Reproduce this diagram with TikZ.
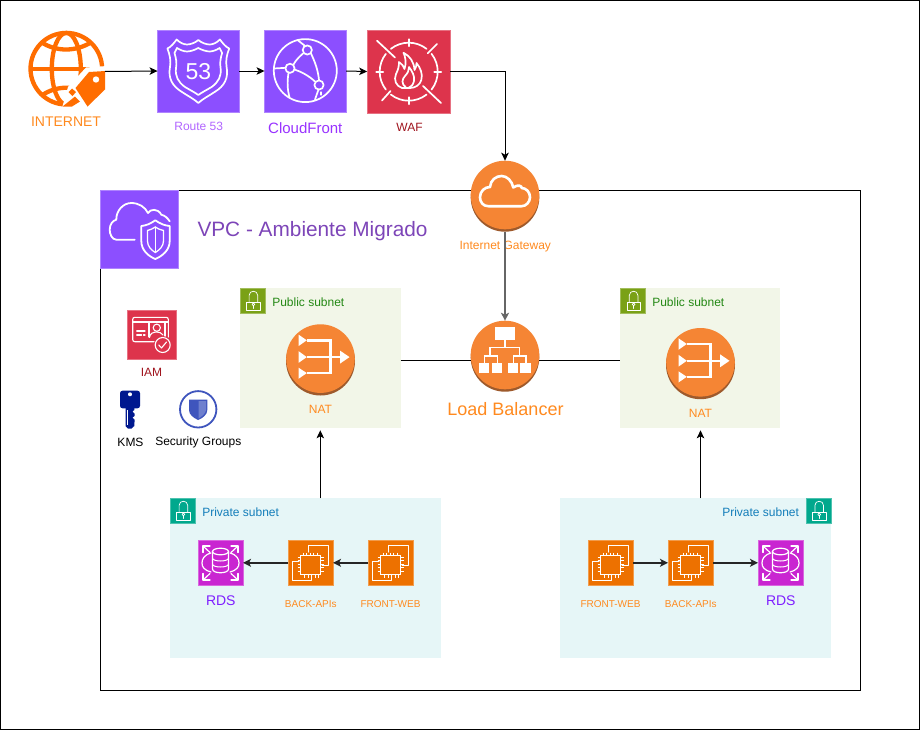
\documentclass[tikz,border=0pt]{standalone}
\usepackage{fontspec}
\setmainfont{Liberation Sans}
\usetikzlibrary{arrows.meta,calc}
\definecolor{awspurple}{HTML}{8C4FFF}
\definecolor{awsred}{HTML}{DD344C}
\definecolor{awsorange}{HTML}{ED7100}
\definecolor{awsmagenta}{HTML}{C925D1}
\definecolor{circorange}{HTML}{F58534}
\definecolor{circshade}{HTML}{9E5A2C}
\definecolor{globeorange}{HTML}{FF6D00}
\definecolor{lblorange}{HTML}{FF8A1F}
\definecolor{lblviolet}{HTML}{9933FF}
\definecolor{lbllilac}{HTML}{B266FF}
\definecolor{lblred}{HTML}{A0141E}
\definecolor{lblrds}{HTML}{7F1FFF}
\definecolor{titlecol}{HTML}{7D45B8}
\definecolor{pubbg}{HTML}{F2F6E8}
\definecolor{pubicon}{HTML}{7AA116}
\definecolor{pubtxt}{HTML}{248814}
\definecolor{privbg}{HTML}{E6F6F7}
\definecolor{privicon}{HTML}{01A88D}
\definecolor{privtxt}{HTML}{147EBA}
\definecolor{keyblue}{HTML}{00188F}
\definecolor{sgblue}{HTML}{3F55BD}
\tikzset{
  x=1pt,y=-1pt,
  iconbox/.style={rectangle,inner sep=0pt,outer sep=0pt,fill=#1,draw=#1!70!white,line width=.5pt},
  subnet/.style={rectangle,inner sep=0pt,outer sep=0pt,fill=#1},
  awscirc/.style={circle,inner sep=0pt,outer sep=0pt,minimum size=68.6pt,fill=circorange},
  txt/.style={inner sep=0pt,outer sep=0pt,yshift=-1pt,font=\fontsize{#1}{#1}\selectfont},
  wl/.style={draw=white,line width=#1,line cap=round,line join=round},
  wl/.default=1.6pt,
  conn/.style={draw=black,line width=1pt,-{Stealth[length=8pt,width=7.5pt,inset=2pt]}},
  thickconn/.style={draw=black!85,line width=1.5pt,-{Stealth[length=8pt,width=8pt,inset=2pt]}},
  plainconn/.style={draw=black,line width=1pt},
  pics/lockicon/.style={code={
    \draw[wl=.7pt] (6.7,13.7) rectangle (20,22);
    \draw[wl=.7pt] (9,13.7) -- (9,7) .. controls (9,1.5) and (17.6,1.5) .. (17.6,7) -- (17.6,13.7);
    \draw[wl=.7pt] (13.3,16) circle (1.4);
    \draw[wl=.7pt] (13.3,17.4) -- (13.3,20);
  }},
  pics/ecicon/.style={code={
    \draw[wl=1pt] (20.3,12) -- (20.3,5.7) -- (40.3,5.7) -- (40.3,25.7) -- (34,25.7);
    \draw[wl=1pt] (11,21) -- (4.3,21) -- (4.3,40) -- (23.7,40) -- (23.7,35);
    \draw[draw=white,line width=1.4pt] (12.5,15.5) rectangle (32.5,34.5);
    \foreach \t in {15,18.5,22,25.5,29}{
      \draw[white,line width=.8pt] (\t,12.5) -- (\t,15.5);
      \draw[white,line width=.8pt] (\t+1.5,34.5) -- (\t+1.5,37.5);
      \draw[white,line width=.8pt] (9.5,\t+2) -- (12.5,\t+2);
      \draw[white,line width=.8pt] (32.5,\t+2) -- (35.5,\t+2);
    }
  }},
  pics/rdsicon/.style={code={
    \draw[wl=1.2pt] (14.5,11.5) -- (14.5,29) .. controls (14.5,34) and (30.5,34) .. (30.5,29) -- (30.5,11.5);
    \draw[wl=1.2pt] (22.5,11.5) ellipse (8 and 3.3);
    \draw[wl=1pt] (14.5,18) .. controls (14.5,22) and (30.5,22) .. (30.5,18);
    \draw[wl=1pt] (14.5,24) .. controls (14.5,28) and (30.5,28) .. (30.5,24);
    \draw[wl=1.2pt] (13,13) .. controls (6,15) and (4,19) .. (4,23) .. controls (4,27) and (6,30) .. (13,32);
    \draw[wl=1.2pt] (32,13) .. controls (39,15) and (41,19) .. (41,23) .. controls (41,27) and (39,30) .. (32,32);
    \foreach \sx/\sy/\cx/\cy in {1/1/5/6,-1/1/40/6,1/-1/5/40,-1/-1/40/40}{
      \draw[wl=1.2pt] (\cx+\sx*7,\cy) -- (\cx,\cy) -- (\cx,\cy+\sy*6.5);
      \draw[wl=1.2pt] (\cx,\cy) -- (\cx+\sx*7,\cy+\sy*6.5);
    }
  }},
  pics/naticon/.style={code={
    \fill[white] (-22,-24) -- (-13.7,-18.3) -- (-22,-12.5) -- cycle;
    \fill[white] (-22,-7.5) -- (-13.7,-1.5) -- (-22,4.3) -- cycle;
    \fill[white] (-22,9) -- (-13.7,14.5) -- (-22,20.2) -- cycle;
    \draw[white,line width=2.6pt] (-14,-18.3) -- (10.2,-18.3) -- (10.2,14.5) -- (-14,14.5);
    \draw[white,line width=2.6pt] (-14,-1.5) -- (20,-1.5);
    \fill[white] (19.5,-8) -- (29,-1.5) -- (19.5,5) -- cycle;
  }},
}
\begin{document}
\begin{tikzpicture}
\useasboundingbox (0,0) rectangle (921,731);
\fill[white] (0,0) rectangle (921,731);
% outer frame and VPC frame
\node[rectangle,draw=black,line width=1pt,inner sep=0pt,outer sep=0pt,minimum width=919.4pt,minimum height=729.2pt] (frame) at (460,365) {};
\node[rectangle,draw=black,line width=1pt,inner sep=0pt,outer sep=0pt,minimum width=759.5pt,minimum height=499.5pt] (vpc) at (480.25,440.25) {};
% VPC icon
\node[iconbox=awspurple,minimum size=78pt] (vpcicon) at (139,229) {};
\draw[wl=1.8pt] (134.7,239.7) -- (116.3,239.7) .. controls (112,239.7) and (109.7,234) .. (109.7,229.7) .. controls (109.7,224) and (113,220.5) .. (116.3,219.7) .. controls (116,211) and (123,203) .. (131.3,203) .. controls (139,203) and (145,207) .. (148,213) .. controls (150,209) and (158,208) .. (161.3,214.7) .. controls (165,215.5) and (167.5,218) .. (169.7,221.3);
\draw[wl=1.8pt] (155.3,220.3) .. controls (150,224) and (146,225.5) .. (141.3,226) -- (141.3,241) .. controls (141.3,250) and (148,256) .. (155.3,259) .. controls (162.6,256) and (169.7,250) .. (169.7,241) -- (169.7,226) .. controls (164.6,225.5) and (160.6,224) .. (155.3,220.3) -- cycle;
\draw[wl=1.3pt] (155.3,227) .. controls (152,229) and (150,230) .. (147.5,230.5) -- (147.5,241) .. controls (147.5,246) and (151,250) .. (155.3,252.5) .. controls (159.6,250) and (163.5,246) .. (163.5,241) -- (163.5,230.5) .. controls (160.6,230) and (158.6,229) .. (155.3,227) -- cycle;
\draw[wl=1.3pt] (155.3,227) -- (155.3,252.5);
\node[txt=20.8,text=titlecol,anchor=west] (vpctitle) at (197.5,230.5) {VPC - Ambiente Migrado};
% subnets
\node[subnet=pubbg,minimum width=160.6pt,minimum height=140pt] (lsub) at (320.3,358.3) {};
\node[subnet=pubbg,minimum width=160pt,minimum height=140pt] (rsub) at (700.3,358.3) {};
\node[subnet=privbg,minimum width=271pt,minimum height=160pt] (lpriv) at (305.5,578.3) {};
\node[subnet=privbg,minimum width=270.7pt,minimum height=160pt] (rpriv) at (695.7,578.3) {};
\node[iconbox=pubicon,minimum size=25pt] (llock) at (252.6,300.9) {};
\pic at (240.1,288.4) {lockicon};
\node[iconbox=pubicon,minimum size=25pt] (rlock) at (632.8,300.9) {};
\pic at (620.3,288.4) {lockicon};
\node[iconbox=privicon,minimum size=25pt] (lplock) at (182.6,510.9) {};
\pic at (170.1,498.4) {lockicon};
\node[iconbox=privicon,minimum size=25pt] (rplock) at (818.4,510.9) {};
\pic at (805.9,498.4) {lockicon};
\node[txt=12,text=pubtxt,anchor=west] (ltxt) at (272.3,301) {Public subnet};
\node[txt=12,text=pubtxt,anchor=west] (rtxt) at (652.3,301) {Public subnet};
\node[txt=12,text=privtxt,anchor=west] (lptxt) at (202.3,511) {Private subnet};
\node[txt=12,text=privtxt,anchor=east] (rptxt) at (799,511) {Private subnet};
% top row
\node[rectangle,inner sep=0pt,outer sep=0pt,minimum width=77.3pt,minimum height=81pt] (inet) at (66.3,71.5) {};
\draw[globeorange,line width=4.3pt] (66.3,68.7) circle (35.8);
\draw[globeorange,line width=4.3pt] (66.3,68.7) ellipse (14.5 and 35.8);
\draw[globeorange,line width=4.3pt] (30.5,69) -- (102,69);
\draw[globeorange,line width=4.3pt] (41,42) .. controls (56,52) and (76,52) .. (91.5,42);
\draw[globeorange,line width=4.3pt] (41,96) .. controls (56,85) and (76,85) .. (91.5,96);
\fill[white] (107,66) -- (86,67.5) -- (68,87) -- (62,108) -- (92,112) -- (108,94) -- cycle;
\fill[globeorange] (105,71) -- (89,72) -- (75.5,88) -- (87.5,106.5) -- (105,89.5) -- cycle;
\fill[white] (96,79.5) circle (3.2);
\fill[globeorange] (68.5,92) -- (72,88.5) -- (76,92) -- (72.5,96) -- cycle;
\fill[globeorange] (62.5,106.5) -- (75,96.5) -- (80,101.5) -- (72,106.5) -- cycle;
\node[txt=14,text=lblorange] (inetl) at (66,121) {INTERNET};
% Route 53
\node[iconbox=awspurple,minimum size=81.5pt] (r53) at (198.3,71) {};
\draw[wl=1.7pt] (198.3,40) .. controls (195,43) and (190,44.5) .. (187,44.5) .. controls (184,44.5) and (180,43) .. (176.7,39.5) .. controls (174,43) and (171,47) .. (167.4,48.5) .. controls (170,55) and (171,61) .. (170,67) .. controls (168,78) and (172,86) .. (182,92) .. controls (188,96) and (194,99) .. (198.3,103) .. controls (202.6,99) and (208.6,96) .. (214.6,92) .. controls (224.6,86) and (228.6,78) .. (226.6,67) .. controls (225.6,61) and (226.6,55) .. (229.2,48.5) .. controls (225.6,47) and (222.6,43) .. (219.9,39.5) .. controls (216.6,43) and (212.6,44.5) .. (209.6,44.5) .. controls (206.6,44.5) and (201.6,43) .. (198.3,40) -- cycle;
\draw[wl=1.7pt] (198.3,48) .. controls (195,50) and (190,51.5) .. (187,51.5) .. controls (184,51.5) and (180,50) .. (177,48) .. controls (176,50) and (175,52) .. (174.5,53) .. controls (176,58) and (177,63) .. (176,68) .. controls (175,76) and (178,82) .. (185,87) .. controls (190,90) and (195,92.5) .. (198.3,95) .. controls (201.6,92.5) and (206.6,90) .. (211.6,87) .. controls (218.6,82) and (221.6,76) .. (220.6,68) .. controls (219.6,63) and (220.6,58) .. (222.1,53) .. controls (221.6,52) and (220.6,50) .. (219.6,48) .. controls (216.6,50) and (212.6,51.5) .. (209.6,51.5) .. controls (206.6,51.5) and (201.6,50) .. (198.3,48) -- cycle;
\node[inner sep=0pt,outer sep=0pt,text=white,font=\fontsize{23}{23}\selectfont] (r53n) at (198.3,72) {53};
\node[txt=12,text=lbllilac] (r53l) at (198.7,125) {Route 53};
% CloudFront
\node[iconbox=awspurple,minimum size=81.5pt] (cf) at (305.3,71) {};
\draw[wl=1.7pt] (305.3,70.6) circle (31.5);
\draw[wl=1.7pt] (307.3,50) circle (4.6);
\draw[wl=1.7pt] (290,68.3) circle (4.6);
\draw[wl=1.7pt] (319,85) circle (4.6);
\draw[wl=1.7pt] (293.5,64.5) .. controls (296,60) and (299,57) .. (303,53.5);
\draw[wl=1.7pt] (311,53.5) .. controls (315,62) and (318,70) .. (319,80);
\draw[wl=1.7pt] (294.5,69.5) .. controls (302,72) and (309,76) .. (315,81.5);
\draw[wl=1.7pt] (274,68.5) -- (285.5,67.8);
\draw[wl=1.7pt] (288.5,73) .. controls (287,82) and (287.5,90) .. (289.5,97.5);
\draw[wl=1.7pt] (304.5,45.5) -- (297.5,40);
\draw[wl=1.7pt] (318.5,89.5) -- (315,99.5);
\draw[wl=1.2pt] (321,92) -- (321,95);
\node[txt=15,text=lblviolet] (cfl) at (305.3,127) {CloudFront};
% WAF
\node[iconbox=awsred,minimum width=82.8pt,minimum height=82.8pt] (waf) at (408.6,71.5) {};
\begin{scope}[shift={(408.7,71.7)}]
  \foreach \a/\b in {52/128,142/218,232/308,322/398}{
    \draw[wl=1.7pt] (\a:29pt) arc[start angle=\a,end angle=\b,radius=29pt];
  }
  \foreach \a in {0,90,180,270}{
    \draw[wl=1.7pt] (\a:25.5pt) -- (\a:32.5pt);
  }
\end{scope}
\draw[wl=1.7pt] (377,40.7) -- (395,57.5);
\draw[wl=1.7pt] (427.7,53.3) -- (437,44);
\draw[wl=1.7pt] (382,100.5) -- (390.5,91);
\draw[wl=1.7pt] (423,86) -- (441,103);
\draw[wl=1.7pt] (402,88) .. controls (396,86) and (393.5,80) .. (396,74) .. controls (398,70) and (399,67) .. (399,62) .. controls (402,64) and (403.5,66) .. (404.5,69) .. controls (406.5,63) and (405.5,57) .. (403.5,52.7) .. controls (410,56) and (414,62) .. (414.5,70) .. controls (416,68) and (416.5,65.5) .. (416.5,63) .. controls (420.5,68) and (423,74) .. (421.3,80) .. controls (420,85) and (415,88) .. (410,88) -- cycle;
\draw[wl=1.7pt] (406,87.5) .. controls (401,84) and (402,79) .. (405,76) .. controls (408,73) and (409,70) .. (409,67) .. controls (412,71) and (415,76) .. (414,81) .. controls (413,85) and (411,87) .. (409,87.5);
\node[txt=12,text=lblred] (wafl) at (409.5,126) {WAF};
% Internet Gateway
\fill[circshade] (505,197.4) circle (34.3);
\node[awscirc] (igw) at (505,195) {};
\draw[wl=2.6pt] (488.3,206.2) .. controls (483,206.2) and (480,202) .. (480,197.2) .. controls (480,191) and (485,187) .. (490,187) .. controls (490.5,180) and (496,176) .. (501.7,176) .. controls (507,176) and (512,181) .. (513.3,187.5) .. controls (518,184) and (522,186) .. (521.7,188) .. controls (526,188) and (530,192) .. (530,197.2) .. controls (530,202) and (526,206.2) .. (521.7,206.2) -- cycle;
\node[txt=12,text=lblorange] (igwl) at (505.3,245.5) {Internet Gateway};
% Load Balancer
\fill[circshade] (505,357.4) circle (34.3);
\node[awscirc] (lb) at (505,355) {};
\fill[white] (495,327.3) rectangle (515,340);
\draw[white,line width=1.1pt] (505,340) -- (505,347.3);
\draw[white,line width=1.1pt] (490,356) -- (490,347.3) -- (519.3,347.3) -- (519.3,356);
\draw[white,line width=1.1pt] (484.3,363.3) -- (484.3,356) -- (497.3,356) -- (497.3,363.3);
\draw[white,line width=1.1pt] (513.3,363.3) -- (513.3,356) -- (526,356) -- (526,363.3);
\fill[white] (479,363.3) rectangle (489.3,373.3);
\fill[white] (491.7,363.3) rectangle (502.3,373.3);
\fill[white] (507.7,363.3) rectangle (517.7,373.3);
\fill[white] (520.3,363.3) rectangle (530.7,373.3);
\node[txt=18,text=lblorange] (lbl) at (505.5,408) {Load Balancer};
% NAT gateways
\fill[circshade] (320.5,361) circle (34.5);
\node[awscirc] (lnat) at (320.5,358.6) {};
\pic at (320.5,358.6) {naticon};
\node[txt=12,text=lblorange] (lnatl) at (320.5,408) {NAT};
\fill[circshade] (700.5,364.7) circle (34.5);
\node[awscirc] (rnat) at (700.5,362.3) {};
\pic at (700.5,362.3) {naticon};
\node[txt=12,text=lblorange] (rnatl) at (700.5,412) {NAT};
% IAM
\node[iconbox=awsred,minimum size=48.6pt] (iam) at (151.6,334.5) {};
\draw[wl=1.1pt] (155,341.7) -- (135,341.7) .. controls (133.5,341.7) and (132.7,341) .. (132.7,339.5) -- (132.7,319.5) .. controls (132.7,318) and (133.5,317.3) .. (135,317.3) -- (166,317.3) .. controls (167.5,317.3) and (168.3,318) .. (168.3,319.5) -- (168.3,337);
\draw[wl=1.1pt] (132.7,322) -- (168.3,322);
\draw[wl=1.1pt] (149,337) -- (149,321.7) -- (165,321.7) -- (165,336.5);
\draw[wl=1.1pt] (156.8,327.7) circle (3.6);
\draw[wl=1.1pt] (149.5,337.5) .. controls (150,333.5) and (153,332) .. (156.8,332) .. controls (159.5,332) and (161.5,333) .. (163,335);
\draw[wl=1.1pt] (136.7,331) -- (145,331);
\draw[wl=1.1pt] (136.7,335) -- (141.5,335);
\draw[wl=1.1pt] (143.5,335) -- (145,335);
\fill[awsred] (162.7,345) circle (9);
\draw[wl=1.1pt] (162.7,345) circle (7.5);
\draw[wl=1.1pt] (158.8,345) -- (161.5,348) -- (166.5,342);
\node[txt=12,text=lblred] (iaml) at (151.5,371) {IAM};
% KMS
\node[rectangle,rounded corners=2.5pt,inner sep=0pt,outer sep=0pt,fill=keyblue,minimum width=20pt,minimum height=17.6pt] (kmshead) at (130,399.5) {};
\fill[keyblue] (125.5,407) -- (134.3,407) -- (134.3,410) -- (132.5,411.5) -- (134.5,413.5) -- (134.5,416) -- (132.5,417.5) -- (134.5,419.5) -- (134.5,422) -- (134.3,426) -- (131.5,428.5) -- (128,428.5) -- (125.5,426) -- cycle;
\fill[white] (130,394.3) circle (2);
\draw[white,line width=.7pt] (127.8,410) -- (127.8,425);
\node[txt=12,text=black] (kmsl) at (130.5,441) {KMS};
% Security Groups
\node[circle,draw=sgblue,line width=1.8pt,inner sep=0pt,outer sep=0pt,minimum size=36.4pt] (sg) at (198.2,409.3) {};
\fill[sgblue] (189,399.6) -- (207.3,399.6) -- (207.3,410) .. controls (207.3,414.5) and (203,418) .. (198.2,420) .. controls (193.4,418) and (189,414.5) .. (189,410) -- cycle;
\fill[sgblue!75!white] (198.5,401) -- (206,401) -- (206,410) .. controls (206,413) and (202,416.5) .. (198.5,418.5) -- cycle;
\node[txt=12,text=black] (sgl) at (198.3,441) {Security Groups};
% compute, left
\node[iconbox=awsmagenta,minimum width=45pt,minimum height=45.5pt] (lrds) at (220.5,562.8) {};
\pic at (198,540) {rdsicon};
\node[iconbox=awsorange,minimum width=45pt,minimum height=45.5pt] (lback) at (310.5,562.8) {};
\pic at (288,540) {ecicon};
\node[iconbox=awsorange,minimum width=45pt,minimum height=45.5pt] (lfront) at (390.5,562.8) {};
\pic at (368,540) {ecicon};
\node[txt=14,text=lblrds] (lrdsl) at (220.8,600) {RDS};
\node[txt=10,text=lblorange] (lbackl) at (310.8,603.5) {BACK-APIs};
\node[txt=10,text=lblorange] (lfrontl) at (390.5,603.5) {FRONT-WEB};
% compute, right
\node[iconbox=awsorange,minimum width=45pt,minimum height=45.5pt] (rfront) at (610.5,562.8) {};
\pic at (588,540) {ecicon};
\node[iconbox=awsorange,minimum width=45pt,minimum height=45.5pt] (rback) at (690.5,562.8) {};
\pic at (668,540) {ecicon};
\node[iconbox=awsmagenta,minimum width=45pt,minimum height=45.5pt] (rrds) at (780.5,562.8) {};
\pic at (758,540) {rdsicon};
\node[txt=10,text=lblorange] (rfrontl) at (610.5,603.5) {FRONT-WEB};
\node[txt=10,text=lblorange] (rbackl) at (690.8,603.5) {BACK-APIs};
\node[txt=14,text=lblrds] (rrdsl) at (780.8,600) {RDS};
% connectors
\coordinate (lbrow) at (505,360);
\draw[conn] (inet.east) -- (r53.west);
\draw[conn] (r53.east) -- (cf.west);
\draw[conn] (cf.east) -- (waf.west);
\draw[conn] (waf.east) -| (igw.north);
\draw[thickconn,draw=black!60] (igw.south) ++(0,2.4) -- (lb.north);
\draw[plainconn] (lsub.east |- lbrow) -- (lb.west |- lbrow);
\draw[plainconn] (lb.east |- lbrow) -- (rsub.west |- lbrow);
\draw[conn,shorten >=2pt] (lpriv.north -| lsub.south) -- (lsub.south);
\draw[conn,shorten >=2pt] (rpriv.north -| rnat.south) -- (rsub.south -| rnat.south);
\draw[thickconn] (lback.west) -- (lrds.east);
\draw[thickconn] (lfront.west) -- (lback.east);
\draw[thickconn] (rfront.east) -- (rback.west);
\draw[thickconn] (rback.east) -- (rrds.west);
\end{tikzpicture}
\end{document}
